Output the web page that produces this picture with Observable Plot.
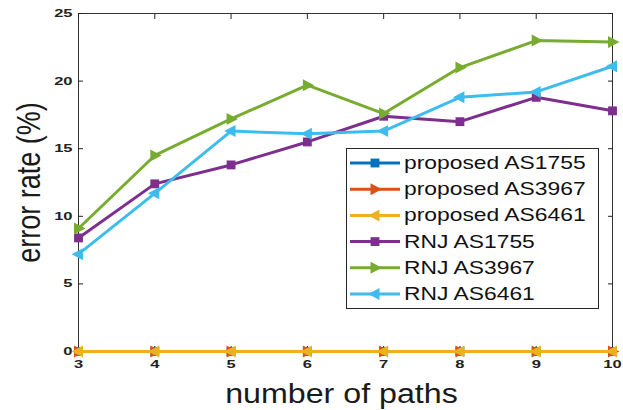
<!DOCTYPE html>
<html><head><meta charset="utf-8">
<script src="https://cdn.jsdelivr.net/npm/d3@7"></script>
<script src="https://cdn.jsdelivr.net/npm/@observablehq/plot@0.6"></script>
<style>
body{margin:0;background:#fff;}
#wrap{position:relative;width:623px;height:410px;font-family:"Liberation Sans",Arial,sans-serif;}
#legend{position:absolute;left:346px;top:148px;}
</style></head><body><div id="wrap"></div>
<script>
const xValues = [3, 4, 5, 6, 7, 8, 9, 10];
const seriesNames = ["proposed AS1755", "proposed AS3967", "proposed AS6461", "RNJ AS1755", "RNJ AS3967", "RNJ AS6461"];
const proposedAS1755 = [0, 0, 0, 0, 0, 0, 0, 0];
const proposedAS3967 = [0, 0, 0, 0, 0, 0, 0, 0];
const proposedAS6461 = [0, 0, 0, 0, 0, 0, 0, 0];
const rnjAS1755 = [8.4, 12.4, 13.8, 15.5, 17.4, 17.0, 18.8, 17.8];
const rnjAS3967 = [9.1, 14.5, 17.2, 19.7, 17.6, 21.0, 23.0, 22.9];
const rnjAS6461 = [7.2, 11.7, 16.3, 16.1, 16.3, 18.8, 19.2, 21.1];
const seriesColors = ["#0072BD", "#D95319", "#EDB120", "#7E2F8E", "#77AC30", "#3DBDEE"];
const seriesMarkers = ["square", "right", "left", "square", "right", "left"];
const xTicks = [3, 4, 5, 6, 7, 8, 9, 10];
const yTicks = [0, 5, 10, 15, 20, 25];
const xLabel = "number of paths";
const yLabel = "error rate (%)";

const allSeries = [proposedAS1755, proposedAS3967, proposedAS6461, rnjAS1755, rnjAS3967, rnjAS6461];

const symRight = {draw(ctx, size) {const r = Math.sqrt(size / Math.PI); ctx.moveTo(r * 1.15, 0); ctx.lineTo(-r * 0.75, -r * 1.0); ctx.lineTo(-r * 0.75, r * 1.0); ctx.closePath();}};
const symLeft = {draw(ctx, size) {const r = Math.sqrt(size / Math.PI); ctx.moveTo(-r * 1.15, 0); ctx.lineTo(r * 0.75, -r * 1.0); ctx.lineTo(r * 0.75, r * 1.0); ctx.closePath();}};
const symbolFor = {square: d3.symbolSquare, right: symRight, left: symLeft};
const rFor = {square: 5, right: 6, left: 6};

const marks = [
  Plot.frame({stroke: "#333", strokeWidth: 1}),
  Plot.axisX({anchor: "bottom", ticks: xTicks, tickSize: -5, tickPadding: 14, fontSize: 11, fontWeight: "bold", tickFormat: d => String(d), label: null}),
  Plot.axisX({anchor: "top", ticks: xTicks, tickSize: -5, tickFormat: () => "", label: null}),
  Plot.axisY({anchor: "left", ticks: yTicks, tickSize: -5, tickPadding: 11, fontSize: 11, fontWeight: "bold", tickFormat: d => String(d), label: null}),
  Plot.axisY({anchor: "right", ticks: yTicks, tickSize: -5, tickFormat: () => "", label: null}),
  Plot.text([xLabel], {frameAnchor: "bottom", dx: -4, dy: 43, fontSize: 28, lineAnchor: "middle", textAnchor: "middle", fill: "#1a1a1a"}),
  Plot.text([yLabel], {frameAnchor: "left", dx: -49, rotate: -90, fontSize: 27, lineAnchor: "middle", textAnchor: "middle", fill: "#1a1a1a"})
];
allSeries.forEach((vals, i) => {
  const data = xValues.map((x, j) => ({x, y: vals[j]}));
  marks.push(Plot.line(data, {x: "x", y: "y", stroke: seriesColors[i], strokeWidth: 3}));
  marks.push(Plot.dot(data, {x: "x", y: "y", fill: seriesColors[i], stroke: "none", symbol: symbolFor[seriesMarkers[i]], r: rFor[seriesMarkers[i]]}));
});

const chart = Plot.plot({
  width: 623, height: 410,
  marginTop: 13, marginRight: 11, marginBottom: 59, marginLeft: 78,
  style: {fontFamily: '"Liberation Sans", Arial, sans-serif', color: "#222", background: "#fff", overflow: "visible"},
  x: {domain: [3, 10]},
  y: {domain: [0, 25]},
  marks
});
document.getElementById("wrap").appendChild(chart);

const isNum = v => v !== null && /^\s*-?[\d.]+\s*$/.test(v);
function stretchEl(el, sx, sy) {
  let t = el.getAttribute("transform") || "";
  const x = el.getAttribute("x"), y = el.getAttribute("y");
  const mx = isNum(x) ? +x : 0, my = isNum(y) ? +y : 0;
  if (isNum(x)) el.removeAttribute("x");
  if (isNum(y)) el.removeAttribute("y");
  if (mx || my) t += ` translate(${mx},${my})`;
  el.setAttribute("transform", t + ` scale(${sx},${sy})`);
}
d3.select(chart).selectAll("text").each(function() {
  const s = this.textContent;
  if (s === xLabel) stretchEl(this, 1.15, 1);
  else if (s === yLabel) stretchEl(this, 1, 1.25);
});
d3.select(chart).selectAll('g[aria-label="x-axis tick label"] text, g[aria-label="y-axis tick label"] text').each(function() {
  stretchEl(this, 1.5, 1);
});

// legend
const lg = d3.select("#wrap").append("svg").attr("id", "legend").attr("width", 254).attr("height", 162);
lg.append("rect").attr("x", 0.5).attr("y", 0.5).attr("width", 252).attr("height", 160).attr("fill", "#fff").attr("stroke", "#262626");
seriesNames.forEach((name, i) => {
  const y = 15 + i * 26.2;
  const g = lg.append("g").attr("transform", `translate(0,${y})`);
  g.append("line").attr("x1", 4).attr("x2", 54).attr("stroke", seriesColors[i]).attr("stroke-width", 3);
  const m = seriesMarkers[i];
  g.append("path").attr("transform", "translate(29,0)").attr("fill", seriesColors[i])
    .attr("d", d3.symbol(symbolFor[m], Math.PI * rFor[m] * rFor[m])());
  g.append("text").attr("transform", "translate(58,6) scale(1.27,1)").attr("font-size", 18).attr("fill", "#111").text(name);
});
</script></body></html>
